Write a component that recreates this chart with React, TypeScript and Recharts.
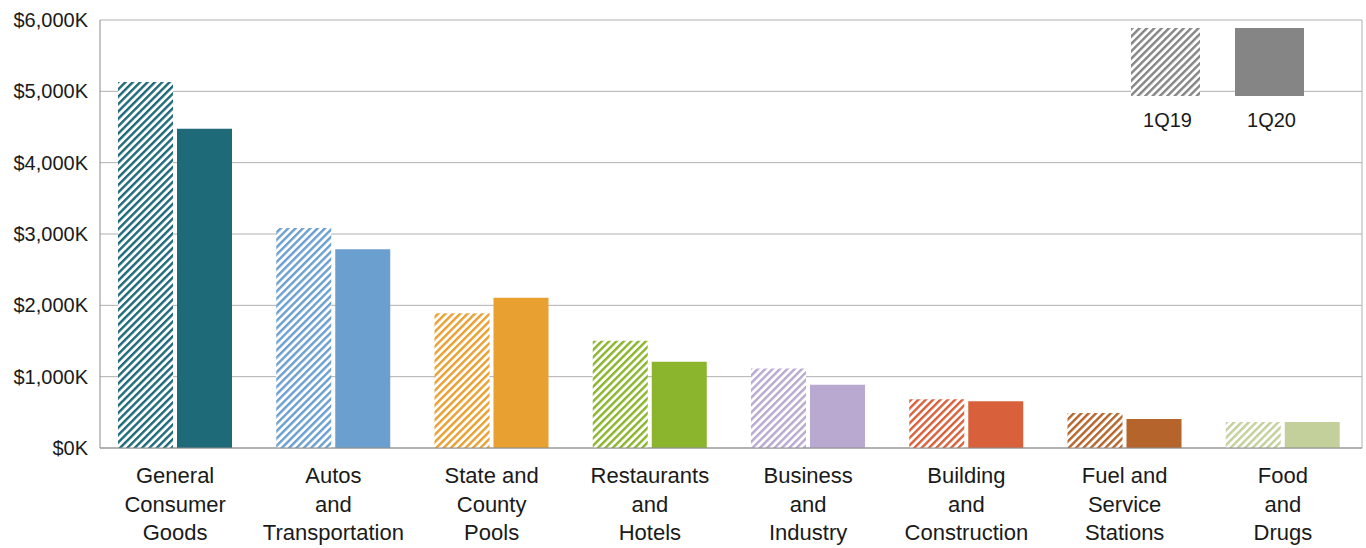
import React from "react";
import {
  BarChart,
  Bar,
  XAxis,
  YAxis,
  CartesianGrid,
  Cell,
  Legend,
} from "recharts";

// Revenue by business category, 1Q19 vs 1Q20 (thousands of dollars)
const categories = [
  "General Consumer Goods",
  "Autos and Transportation",
  "State and County Pools",
  "Restaurants and Hotels",
  "Business and Industry",
  "Building and Construction",
  "Fuel and Service Stations",
  "Food and Drugs",
];

const categoryLines = [
  ["General", "Consumer", "Goods"],
  ["Autos", "and", "Transportation"],
  ["State and", "County", "Pools"],
  ["Restaurants", "and", "Hotels"],
  ["Business", "and", "Industry"],
  ["Building", "and", "Construction"],
  ["Fuel and", "Service", "Stations"],
  ["Food", "and", "Drugs"],
];

const q19 = [5130, 3085, 1890, 1505, 1115, 685, 490, 365];
const q20 = [4475, 2785, 2105, 1210, 885, 655, 405, 365];

const categoryColors = [
  "#1f6a79",
  "#6b9fcf",
  "#e8a030",
  "#8ab52c",
  "#b9a9d0",
  "#d8603a",
  "#b5652c",
  "#c3d09c",
];

const yTicks = [0, 1000, 2000, 3000, 4000, 5000, 6000];
const seriesNames = ["1Q19", "1Q20"];
const legendGray = "#858585";

const data = categories.map((name, i) => ({
  name,
  q19: q19[i],
  q20: q20[i],
}));

const FONT = "'Liberation Sans', Arial, Helvetica, sans-serif";

const formatK = (v: number) => `$${v.toLocaleString("en-US")}K`;

const YTick = (props: any) => {
  const { x, y, payload } = props;
  return (
    <text
      x={x - 12}
      y={y + 7}
      textAnchor="end"
      fontSize={20}
      fontFamily={FONT}
      fill="#1a1a1a"
    >
      {formatK(payload.value)}
    </text>
  );
};

const XTick = (props: any) => {
  const { x, y, index } = props;
  const lines = categoryLines[index] || [];
  return (
    <text
      x={x}
      y={y}
      textAnchor="middle"
      fontSize={22}
      fontFamily={FONT}
      fill="#1a1a1a"
    >
      {lines.map((line, i) => (
        <tspan key={i} x={x} dy={i === 0 ? 35 : 28.7}>
          {line}
        </tspan>
      ))}
    </text>
  );
};

const hatchId = (i: number | string) => `hatch-${i}`;

const HatchPattern = ({ id, color }: { id: string; color: string }) => (
  <pattern
    id={id}
    patternUnits="userSpaceOnUse"
    width={5.2}
    height={5.2}
    patternTransform="rotate(45)"
  >
    <rect width={5.2} height={5.2} fill="#ffffff" />
    <rect width={2.4} height={5.2} fill={color} />
  </pattern>
);

const LegendContent = () => (
  <svg width={200} height={110} style={{ display: "block" }}>
    <rect x={11} y={4} width={69} height={68} fill={`url(#${hatchId("legend")})`} />
    <rect x={115} y={4} width={69} height={68} fill={legendGray} />
    {seriesNames.map((s, i) => (
      <text
        key={s}
        x={i === 0 ? 47.5 : 151.5}
        y={103}
        textAnchor="middle"
        fontSize={20}
        fontFamily={FONT}
        fill="#1a1a1a"
      >
        {s}
      </text>
    ))}
  </svg>
);

export default function App() {
  return (
    <div
      style={{
        position: "absolute",
        left: 0,
        top: 0,
        width: 1366,
        height: 548,
        background: "#ffffff",
      }}
    >
      <BarChart
        width={1366}
        height={548}
        data={data}
        margin={{ top: 20, right: 4, bottom: 0, left: 0 }}
        barSize={55}
        barGap={4}
      >
        <defs>
          {categoryColors.map((c, i) => (
            <HatchPattern key={i} id={hatchId(i)} color={c} />
          ))}
          <HatchPattern id={hatchId("legend")} color={legendGray} />
        </defs>
        <CartesianGrid
          stroke="#b0b0b0"
          strokeWidth={1}
          vertical={true}
          verticalPoints={[1362]}
        />
        <XAxis
          dataKey="name"
          height={100}
          interval={0}
          padding={{ left: -4, right: 0 }}
          tickLine={false}
          tickSize={0}
          tickMargin={0}
          axisLine={{ stroke: "#8c8c8c" }}
          tick={<XTick />}
        />
        <YAxis
          width={100}
          domain={[0, 6000]}
          ticks={yTicks}
          interval={0}
          tickLine={false}
          tickSize={0}
          tickMargin={0}
          axisLine={{ stroke: "#8c8c8c" }}
          tick={<YTick />}
        />
        <Legend
          layout="horizontal"
          verticalAlign="middle"
          align="center"
          wrapperStyle={{ position: "absolute", left: 1120, top: 24, width: 200, height: 110 }}
          content={<LegendContent />}
        />
        <Bar dataKey="q19" name={seriesNames[0]} isAnimationActive={false}>
          {data.map((_, i) => (
            <Cell key={i} fill={`url(#${hatchId(i)})`} />
          ))}
        </Bar>
        <Bar dataKey="q20" name={seriesNames[1]} isAnimationActive={false}>
          {data.map((_, i) => (
            <Cell key={i} fill={categoryColors[i]} />
          ))}
        </Bar>
      </BarChart>
    </div>
  );
}
